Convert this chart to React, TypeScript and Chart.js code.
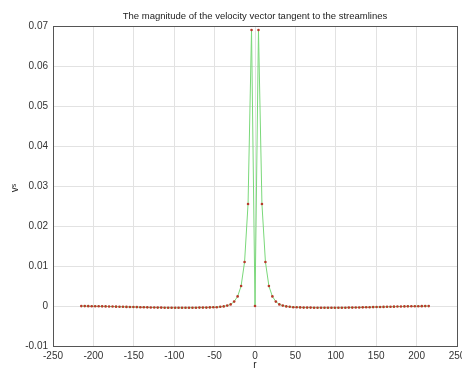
import React, { useEffect, useRef } from "react";
import { Chart, registerables } from "chart.js";

Chart.register(...registerables);

const chartTitle = "The magnitude of the velocity vector tangent to the streamlines";
const xAxisLabel = "r";
const yAxisLabel = "vˢ";
const xTicks = [-250, -200, -150, -100, -50, 0, 50, 100, 150, 200, 250];
const yTicks = [-0.01, 0, 0.01, 0.02, 0.03, 0.04, 0.05, 0.06, 0.07];

const rValues = [
  -215, -210.7, -206.4, -202.1, -197.8, -193.5, -189.2, -184.9, -180.6, -176.3,
  -172, -167.7, -163.4, -159.1, -154.8, -150.5, -146.2, -141.9, -137.6, -133.3,
  -129, -124.7, -120.4, -116.1, -111.8, -107.5, -103.2, -98.9, -94.6, -90.3,
  -86, -81.7, -77.4, -73.1, -68.8, -64.5, -60.2, -55.9, -51.6, -47.3,
  -43, -38.7, -34.4, -30.1, -25.8, -21.5, -17.2, -12.9, -8.6, -4.3,
  0,
  4.3, 8.6, 12.9, 17.2, 21.5, 25.8, 30.1, 34.4, 38.7, 43,
  47.3, 51.6, 55.9, 60.2, 64.5, 68.8, 73.1, 77.4, 81.7, 86,
  90.3, 94.6, 98.9, 103.2, 107.5, 111.8, 116.1, 120.4, 124.7, 129,
  133.3, 137.6, 141.9, 146.2, 150.5, 154.8, 159.1, 163.4, 167.7, 172,
  176.3, 180.6, 184.9, 189.2, 193.5, 197.8, 202.1, 206.4, 210.7, 215,
];

const vValues = [
  -0.00002, -0.00003, -0.00004, -0.00005, -0.00006, -0.00008, -0.00009, -0.0001, -0.00012, -0.00014,
  -0.00016, -0.00018, -0.0002, -0.00022, -0.00024, -0.00026, -0.00028, -0.0003, -0.00032, -0.00034,
  -0.00036, -0.00038, -0.0004, -0.0004, -0.00042, -0.00043, -0.00044, -0.00045, -0.00045, -0.00045,
  -0.00045, -0.00044, -0.00043, -0.00042, -0.0004, -0.0004, -0.0004, -0.00035, -0.0003, -0.0003,
  -0.0002, -0.0001, 0.0001, 0.0004, 0.0011, 0.0024, 0.005, 0.011, 0.0255, 0.069,
  0,
  0.069, 0.0255, 0.011, 0.005, 0.0024, 0.0011, 0.0004, 0.0001, -0.0001, -0.0002,
  -0.0003, -0.0003, -0.00035, -0.0004, -0.0004, -0.0004, -0.00042, -0.00043, -0.00044, -0.00045,
  -0.00045, -0.00045, -0.00045, -0.00044, -0.00043, -0.00042, -0.0004, -0.0004, -0.00038, -0.00036,
  -0.00034, -0.00032, -0.0003, -0.00028, -0.00026, -0.00024, -0.00022, -0.0002, -0.00018, -0.00016,
  -0.00014, -0.00012, -0.0001, -0.00009, -0.00008, -0.00006, -0.00005, -0.00004, -0.00003, -0.00002,
];

const FONT = "'Liberation Sans', Arial, sans-serif";

const textPlugin = {
  id: "matlabText",
  afterDraw(chart: any) {
    const { ctx, chartArea } = chart;
    ctx.save();
    ctx.fillStyle = "#222";
    ctx.textAlign = "center";
    ctx.textBaseline = "middle";
    ctx.font = `9.5px ${FONT}`;
    ctx.fillText(chartTitle, (chartArea.left + chartArea.right) / 2, 16);
    ctx.font = `10px ${FONT}`;
    ctx.fillText(xAxisLabel, (chartArea.left + chartArea.right) / 2, 365);
    ctx.translate(15, 188);
    ctx.rotate(-Math.PI / 2);
    ctx.fillText(yAxisLabel, 0, 0);
    ctx.restore();
    ctx.save();
    ctx.strokeStyle = "#555";
    ctx.lineWidth = 1;
    ctx.strokeRect(
      Math.round(chartArea.left) + 0.5,
      Math.round(chartArea.top) + 0.5,
      Math.round(chartArea.right - chartArea.left),
      Math.round(chartArea.bottom - chartArea.top)
    );
    ctx.restore();
  },
};

export default function App() {
  const ref = useRef<HTMLCanvasElement>(null);
  useEffect(() => {
    if (!ref.current) return;
    const points = rValues.map((r, i) => ({ x: r, y: vValues[i] }));
    const chart = new Chart(ref.current, {
      type: "scatter",
      data: {
        datasets: [
          {
            data: points,
            showLine: true,
            borderColor: "#7ad87a",
            borderWidth: 1,
            pointRadius: 1.3,
            pointBackgroundColor: "#b83a2a",
            pointBorderWidth: 0,
            pointBorderColor: "#b83a2a",
            tension: 0,
          },
        ],
      },
      options: {
        animation: false,
        responsive: false,
        maintainAspectRatio: false,
        layout: { padding: { top: 26, right: 5, left: 0, bottom: 0 } },
        plugins: {
          legend: { display: false },
          title: { display: false },
          tooltip: { enabled: false },
        },
        scales: {
          x: {
            type: "linear",
            min: -250,
            max: 250,
            afterBuildTicks: (s: any) => {
              s.ticks = xTicks.map((v) => ({ value: v }));
            },
            afterFit: (s: any) => {
              s.height = 24;
              s.paddingLeft = 0;
              s.paddingRight = 0;
            },
            grid: { color: "#e2e2e2", drawTicks: false },
            border: { display: false },
            ticks: {
              color: "#333",
              font: { family: FONT, size: 10 },
              padding: 4,
              maxRotation: 0,
              autoSkip: false,
              callback: (v: any) => String(v),
            },
          },
          y: {
            type: "linear",
            min: -0.01,
            max: 0.07,
            afterBuildTicks: (s: any) => {
              s.ticks = yTicks.map((v) => ({ value: v }));
            },
            afterFit: (s: any) => {
              s.width = 53;
              s.paddingTop = 0;
              s.paddingBottom = 0;
            },
            grid: { color: "#e2e2e2", drawTicks: false },
            border: { display: false },
            ticks: {
              color: "#333",
              font: { family: FONT, size: 10 },
              padding: 5,
              autoSkip: false,
              callback: (v: any) => {
                const n = Math.round(Number(v) * 100) / 100;
                return n === 0 ? "0" : n.toFixed(2);
              },
            },
          },
        },
      },
      plugins: [textPlugin],
    });
    return () => chart.destroy();
  }, []);
  return (
    <div style={{ position: "absolute", left: 0, top: 0, width: 462, height: 370, background: "#fff" }}>
      <canvas ref={ref} width={462} height={370} style={{ width: 462, height: 370 }} />
    </div>
  );
}
